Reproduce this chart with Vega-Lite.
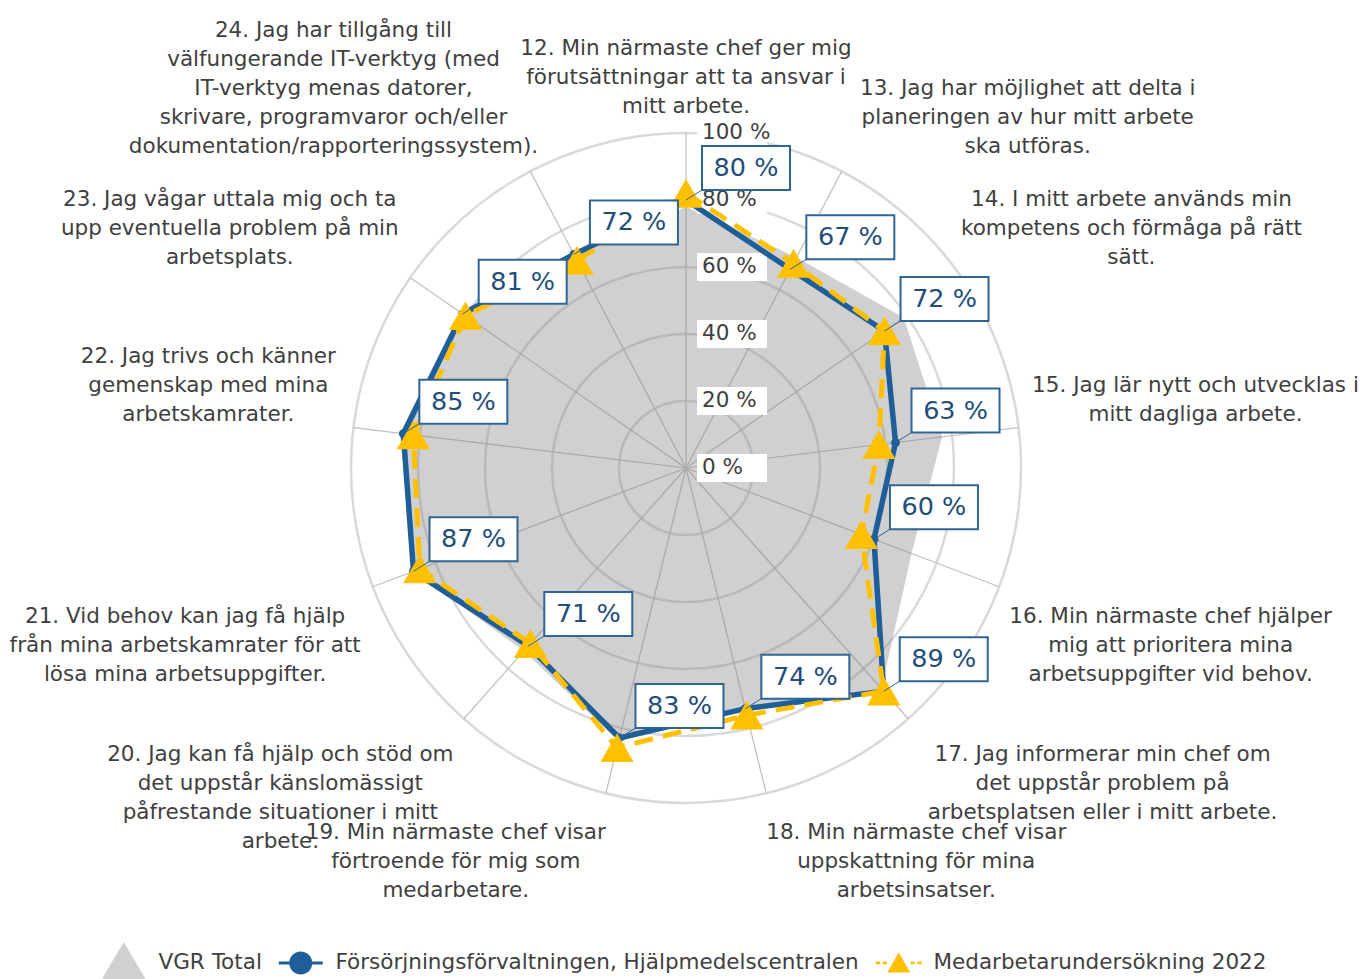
{
  "$schema": "https://vega.github.io/schema/vega-lite/v6.json",
  "width": 1367,
  "height": 979,
  "padding": 0,
  "autosize": {"type": "none"},
  "background": "white",
  "config": {"view": {"stroke": null}, "font": "DejaVu Sans"},
  "datasets": {
    "ticks": [{"r": 0}, {"r": 20}, {"r": 40}, {"r": 60}, {"r": 80}, {"r": 100}],
    "items": [
      {"item": 12, "label": ["12. Min närmaste chef ger mig", "förutsättningar att ta ansvar i", "mitt arbete."]},
      {"item": 13, "label": ["13. Jag har möjlighet att delta i", "planeringen av hur mitt arbete", "ska utföras."]},
      {"item": 14, "label": ["14. I mitt arbete används min", "kompetens och förmåga på rätt", "sätt."]},
      {"item": 15, "label": ["15. Jag lär nytt och utvecklas i", "mitt dagliga arbete."]},
      {"item": 16, "label": ["16. Min närmaste chef hjälper", "mig att prioritera mina", "arbetsuppgifter vid behov."]},
      {"item": 17, "label": ["17. Jag informerar min chef om", "det uppstår problem på", "arbetsplatsen eller i mitt arbete."]},
      {"item": 18, "label": ["18. Min närmaste chef visar", "uppskattning för mina", "arbetsinsatser."]},
      {"item": 19, "label": ["19. Min närmaste chef visar", "förtroende för mig som", "medarbetare."]},
      {"item": 20, "label": ["20. Jag kan få hjälp och stöd om", "det uppstår känslomässigt", "påfrestande situationer i mitt", "arbete."]},
      {"item": 21, "label": ["21. Vid behov kan jag få hjälp", "från mina arbetskamrater för att", "lösa mina arbetsuppgifter."]},
      {"item": 22, "label": ["22. Jag trivs och känner", "gemenskap med mina", "arbetskamrater."]},
      {"item": 23, "label": ["23. Jag vågar uttala mig och ta", "upp eventuella problem på min", "arbetsplats."]},
      {"item": 24, "label": ["24. Jag har tillgång till", "välfungerande IT-verktyg (med", "IT-verktyg menas datorer,", "skrivare, programvaror och/eller", "dokumentation/rapporteringssystem)."]}
    ],
    "values": [
      {"item": 12, "series": "VGR Total", "value": 78},
      {"item": 13, "series": "VGR Total", "value": 71},
      {"item": 14, "series": "VGR Total", "value": 79},
      {"item": 15, "series": "VGR Total", "value": 77},
      {"item": 16, "series": "VGR Total", "value": 72},
      {"item": 17, "series": "VGR Total", "value": 88},
      {"item": 18, "series": "VGR Total", "value": 74},
      {"item": 19, "series": "VGR Total", "value": 84},
      {"item": 20, "series": "VGR Total", "value": 73},
      {"item": 21, "series": "VGR Total", "value": 87},
      {"item": 22, "series": "VGR Total", "value": 86},
      {"item": 23, "series": "VGR Total", "value": 82},
      {"item": 24, "series": "VGR Total", "value": 72},
      {"item": 12, "series": "Försörjningsförvaltningen, Hjälpmedelscentralen", "value": 80},
      {"item": 13, "series": "Försörjningsförvaltningen, Hjälpmedelscentralen", "value": 67},
      {"item": 14, "series": "Försörjningsförvaltningen, Hjälpmedelscentralen", "value": 72},
      {"item": 15, "series": "Försörjningsförvaltningen, Hjälpmedelscentralen", "value": 63},
      {"item": 16, "series": "Försörjningsförvaltningen, Hjälpmedelscentralen", "value": 60},
      {"item": 17, "series": "Försörjningsförvaltningen, Hjälpmedelscentralen", "value": 89},
      {"item": 18, "series": "Försörjningsförvaltningen, Hjälpmedelscentralen", "value": 74},
      {"item": 19, "series": "Försörjningsförvaltningen, Hjälpmedelscentralen", "value": 83},
      {"item": 20, "series": "Försörjningsförvaltningen, Hjälpmedelscentralen", "value": 71},
      {"item": 21, "series": "Försörjningsförvaltningen, Hjälpmedelscentralen", "value": 87},
      {"item": 22, "series": "Försörjningsförvaltningen, Hjälpmedelscentralen", "value": 85},
      {"item": 23, "series": "Försörjningsförvaltningen, Hjälpmedelscentralen", "value": 81},
      {"item": 24, "series": "Försörjningsförvaltningen, Hjälpmedelscentralen", "value": 72},
      {"item": 12, "series": "Medarbetarundersökning 2022", "value": 82},
      {"item": 13, "series": "Medarbetarundersökning 2022", "value": 69},
      {"item": 14, "series": "Medarbetarundersökning 2022", "value": 72},
      {"item": 15, "series": "Medarbetarundersökning 2022", "value": 58},
      {"item": 16, "series": "Medarbetarundersökning 2022", "value": 56},
      {"item": 17, "series": "Medarbetarundersökning 2022", "value": 89},
      {"item": 18, "series": "Medarbetarundersökning 2022", "value": 76},
      {"item": 19, "series": "Medarbetarundersökning 2022", "value": 86},
      {"item": 20, "series": "Medarbetarundersökning 2022", "value": 70},
      {"item": 21, "series": "Medarbetarundersökning 2022", "value": 85},
      {"item": 22, "series": "Medarbetarundersökning 2022", "value": 82},
      {"item": 23, "series": "Medarbetarundersökning 2022", "value": 80},
      {"item": 24, "series": "Medarbetarundersökning 2022", "value": 70}
    ]
  },
  "layer": [
    {
      "data": {"name": "ticks"},
      "transform": [{"filter": "datum.r > 0"}, {"calculate": "0", "as": "o"}],
      "mark": {"type": "arc", "theta": 0, "theta2": 6.2832, "fillOpacity": 0, "stroke": "#d9d9d9", "strokeWidth": 2.5},
      "encoding": {
        "x": {"field": "o", "type": "quantitative", "scale": {"domain": [-204.78, 203.28], "nice": false, "zero": false}, "axis": null},
        "y": {"field": "o", "type": "quantitative", "scale": {"domain": [-152.54, 139.7], "nice": false, "zero": false}, "axis": null},
        "radius": {"field": "r", "type": "quantitative", "stack": null, "scale": {"type": "linear", "domain": [0, 100], "range": [0, 335], "zero": true}}
      }
    },
    {
      "data": {"name": "items"},
      "transform": [
        {"calculate": "(datum.item - 12) * 2 * PI / 13", "as": "a"},
        {"calculate": "0", "as": "o"},
        {"calculate": "100 * sin(datum.a)", "as": "sx"},
        {"calculate": "100 * cos(datum.a)", "as": "sy"}
      ],
      "mark": {"type": "rule", "stroke": "#bfbfbf", "strokeWidth": 1.2},
      "encoding": {
        "x": {"field": "o", "type": "quantitative", "scale": {"domain": [-204.78, 203.28], "nice": false, "zero": false}, "axis": null},
        "y": {"field": "o", "type": "quantitative", "scale": {"domain": [-152.54, 139.7], "nice": false, "zero": false}, "axis": null},
        "x2": {"field": "sx"},
        "y2": {"field": "sy"}
      }
    },
    {
      "data": {"name": "values"},
      "transform": [
        {"filter": "datum.series === 'VGR Total'"},
        {"calculate": "(datum.item - 12) * 2 * PI / 13", "as": "a"},
        {"calculate": "datum.value * sin(datum.a)", "as": "px"},
        {"calculate": "datum.value * cos(datum.a)", "as": "py"}
      ],
      "mark": {"type": "line", "interpolate": "linear-closed", "fill": "#808080", "fillOpacity": 0.37, "stroke": "transparent", "strokeWidth": 0},
      "encoding": {
        "x": {"field": "px", "type": "quantitative", "scale": {"domain": [-204.78, 203.28], "nice": false, "zero": false}, "axis": null},
        "y": {"field": "py", "type": "quantitative", "scale": {"domain": [-152.54, 139.7], "nice": false, "zero": false}, "axis": null},
        "order": {"field": "item", "type": "quantitative"}
      }
    },
    {
      "data": {"name": "ticks"},
      "transform": [{"calculate": "0", "as": "o"}],
      "mark": {"type": "point", "shape": "M1.1,-1.4H8.1V1.4H1.1Z", "size": 400, "filled": true, "fill": "white", "opacity": 1, "strokeWidth": 0},
      "encoding": {
        "x": {"field": "o", "type": "quantitative", "scale": {"domain": [-204.78, 203.28], "nice": false, "zero": false}, "axis": null},
        "y": {"field": "r", "type": "quantitative", "scale": {"domain": [-152.54, 139.7], "nice": false, "zero": false}, "axis": null}
      }
    },
    {
      "data": {"name": "ticks"},
      "transform": [{"calculate": "0", "as": "o"}, {"calculate": "datum.r + ' %'", "as": "tl"}],
      "mark": {"type": "text", "align": "left", "baseline": "middle", "dx": 16, "fontSize": 21.5, "font": "DejaVu Sans", "fill": "#404040"},
      "encoding": {
        "x": {"field": "o", "type": "quantitative", "scale": {"domain": [-204.78, 203.28], "nice": false, "zero": false}, "axis": null},
        "y": {"field": "r", "type": "quantitative", "scale": {"domain": [-152.54, 139.7], "nice": false, "zero": false}, "axis": null},
        "text": {"field": "tl", "type": "nominal"}
      }
    },
    {
      "data": {"name": "values"},
      "transform": [
        {"filter": "datum.series === 'Försörjningsförvaltningen, Hjälpmedelscentralen'"},
        {"calculate": "(datum.item - 12) * 2 * PI / 13", "as": "a"},
        {"calculate": "datum.value * sin(datum.a)", "as": "px"},
        {"calculate": "datum.value * cos(datum.a)", "as": "py"}
      ],
      "mark": {"type": "line", "interpolate": "linear-closed", "stroke": "#1f5f99", "strokeWidth": 5.5},
      "encoding": {
        "x": {"field": "px", "type": "quantitative", "scale": {"domain": [-204.78, 203.28], "nice": false, "zero": false}, "axis": null},
        "y": {"field": "py", "type": "quantitative", "scale": {"domain": [-152.54, 139.7], "nice": false, "zero": false}, "axis": null},
        "order": {"field": "item", "type": "quantitative"}
      }
    },
    {
      "data": {"name": "values"},
      "transform": [
        {"filter": "datum.series === 'Medarbetarundersökning 2022'"},
        {"calculate": "(datum.item - 12) * 2 * PI / 13", "as": "a"},
        {"calculate": "datum.value * sin(datum.a)", "as": "px"},
        {"calculate": "datum.value * cos(datum.a)", "as": "py"}
      ],
      "mark": {"type": "line", "interpolate": "linear-closed", "stroke": "#ffc000", "strokeWidth": 5, "strokeDash": [19, 10]},
      "encoding": {
        "x": {"field": "px", "type": "quantitative", "scale": {"domain": [-204.78, 203.28], "nice": false, "zero": false}, "axis": null},
        "y": {"field": "py", "type": "quantitative", "scale": {"domain": [-152.54, 139.7], "nice": false, "zero": false}, "axis": null},
        "order": {"field": "item", "type": "quantitative"}
      }
    },
    {
      "data": {"name": "values"},
      "transform": [
        {"filter": "datum.series === 'Försörjningsförvaltningen, Hjälpmedelscentralen'"},
        {"calculate": "(datum.item - 12) * 2 * PI / 13", "as": "a"},
        {"calculate": "datum.value * sin(datum.a)", "as": "px"},
        {"calculate": "datum.value * cos(datum.a)", "as": "py"}
      ],
      "mark": {"type": "point", "shape": "circle", "filled": true, "size": 80, "fill": "#1f5f99", "opacity": 1},
      "encoding": {
        "x": {"field": "px", "type": "quantitative", "scale": {"domain": [-204.78, 203.28], "nice": false, "zero": false}, "axis": null},
        "y": {"field": "py", "type": "quantitative", "scale": {"domain": [-152.54, 139.7], "nice": false, "zero": false}, "axis": null}
      }
    },
    {
      "data": {"name": "values"},
      "transform": [
        {"filter": "datum.series === 'Medarbetarundersökning 2022'"},
        {"calculate": "(datum.item - 12) * 2 * PI / 13", "as": "a"},
        {"calculate": "datum.value * sin(datum.a)", "as": "px"},
        {"calculate": "datum.value * cos(datum.a)", "as": "py"}
      ],
      "mark": {"type": "point", "shape": "triangle-up", "filled": true, "size": 1100, "fill": "#ffc000", "opacity": 1},
      "encoding": {
        "x": {"field": "px", "type": "quantitative", "scale": {"domain": [-204.78, 203.28], "nice": false, "zero": false}, "axis": null},
        "y": {"field": "py", "type": "quantitative", "scale": {"domain": [-152.54, 139.7], "nice": false, "zero": false}, "axis": null}
      }
    },
    {
      "data": {"name": "values"},
      "transform": [
        {"filter": "datum.series === 'Försörjningsförvaltningen, Hjälpmedelscentralen'"},
        {"calculate": "(datum.item - 12) * 2 * PI / 13", "as": "a"},
        {"calculate": "datum.value * sin(datum.a)", "as": "px"},
        {"calculate": "datum.value * cos(datum.a)", "as": "py"}
      ],
      "mark": {"type": "point", "shape": "M0,0L1.6,-1", "filled": false, "size": 400, "stroke": "#2e6596", "strokeWidth": 1, "opacity": 1},
      "encoding": {
        "x": {"field": "px", "type": "quantitative", "scale": {"domain": [-204.78, 203.28], "nice": false, "zero": false}, "axis": null},
        "y": {"field": "py", "type": "quantitative", "scale": {"domain": [-152.54, 139.7], "nice": false, "zero": false}, "axis": null}
      }
    },
    {
      "data": {"name": "values"},
      "transform": [
        {"filter": "datum.series === 'Försörjningsförvaltningen, Hjälpmedelscentralen'"},
        {"calculate": "(datum.item - 12) * 2 * PI / 13", "as": "a"},
        {"calculate": "datum.value * sin(datum.a)", "as": "px"},
        {"calculate": "datum.value * cos(datum.a)", "as": "py"}
      ],
      "mark": {"type": "point", "shape": "M1.6,-5.4H10.4V-1H1.6Z", "filled": true, "size": 400, "fill": "white", "stroke": "#2e6596", "strokeWidth": 2, "opacity": 1},
      "encoding": {
        "x": {"field": "px", "type": "quantitative", "scale": {"domain": [-204.78, 203.28], "nice": false, "zero": false}, "axis": null},
        "y": {"field": "py", "type": "quantitative", "scale": {"domain": [-152.54, 139.7], "nice": false, "zero": false}, "axis": null}
      }
    },
    {
      "data": {"name": "values"},
      "transform": [
        {"filter": "datum.series === 'Försörjningsförvaltningen, Hjälpmedelscentralen'"},
        {"calculate": "(datum.item - 12) * 2 * PI / 13", "as": "a"},
        {"calculate": "datum.value * sin(datum.a)", "as": "px"},
        {"calculate": "datum.value * cos(datum.a)", "as": "py"},
        {"calculate": "datum.value + ' %'", "as": "dl"}
      ],
      "mark": {"type": "text", "align": "center", "baseline": "middle", "dx": 60, "dy": -32, "fontSize": 25.5, "font": "DejaVu Sans", "fill": "#1f4e79"},
      "encoding": {
        "x": {"field": "px", "type": "quantitative", "scale": {"domain": [-204.78, 203.28], "nice": false, "zero": false}, "axis": null},
        "y": {"field": "py", "type": "quantitative", "scale": {"domain": [-152.54, 139.7], "nice": false, "zero": false}, "axis": null},
        "text": {"field": "dl", "type": "nominal"}
      }
    },
    {
      "data": {"name": "items"},
      "transform": [
        {"calculate": "(datum.item - 12) * 2 * PI / 13", "as": "a"},
        {"calculate": "104.5 * sin(datum.a)", "as": "ax"},
        {"calculate": "104.5 * cos(datum.a)", "as": "ay"},
        {"calculate": "max(length(datum.label[0]), length(datum.label[1] || ''), length(datum.label[2] || ''), length(datum.label[3] || ''), length(datum.label[4] || ''))", "as": "maxlen"},
        {"calculate": "datum.ax + (datum.ax > 1 ? 1 : (datum.ax < -1 ? -1 : 0)) * datum.maxlen * 1.619", "as": "lx0"},
        {"calculate": "max(-204.78 + datum.maxlen * 1.6, min(203.28 - datum.maxlen * 1.6, datum.lx0))", "as": "lx"},
        {"calculate": "datum.ay + (length(datum.label) - 1) * 29 / 3.35", "as": "ly"},
        {"filter": "datum.ay >= 0"}
      ],
      "mark": {"type": "text", "align": "center", "baseline": "bottom", "fontSize": 21.5, "lineHeight": 29, "font": "DejaVu Sans", "fill": "#404040"},
      "encoding": {
        "x": {"field": "lx", "type": "quantitative", "scale": {"domain": [-204.78, 203.28], "nice": false, "zero": false}, "axis": null},
        "y": {"field": "ly", "type": "quantitative", "scale": {"domain": [-152.54, 139.7], "nice": false, "zero": false}, "axis": null},
        "text": {"field": "label", "type": "nominal"}
      }
    },
    {
      "data": {"name": "items"},
      "transform": [
        {"calculate": "(datum.item - 12) * 2 * PI / 13", "as": "a"},
        {"calculate": "104.5 * sin(datum.a)", "as": "ax"},
        {"calculate": "104.5 * cos(datum.a)", "as": "ay"},
        {"calculate": "max(length(datum.label[0]), length(datum.label[1] || ''), length(datum.label[2] || ''), length(datum.label[3] || ''), length(datum.label[4] || ''))", "as": "maxlen"},
        {"calculate": "datum.ax + (datum.ax > 1 ? 1 : (datum.ax < -1 ? -1 : 0)) * datum.maxlen * 1.619", "as": "lx0"},
        {"calculate": "max(-204.78 + datum.maxlen * 1.6, min(203.28 - datum.maxlen * 1.6, datum.lx0))", "as": "lx"},
        {"filter": "datum.ay < 0"}
      ],
      "mark": {"type": "text", "align": "center", "baseline": "top", "dy": 14, "fontSize": 21.5, "lineHeight": 29, "font": "DejaVu Sans", "fill": "#404040"},
      "encoding": {
        "x": {"field": "lx", "type": "quantitative", "scale": {"domain": [-204.78, 203.28], "nice": false, "zero": false}, "axis": null},
        "y": {"field": "ay", "type": "quantitative", "scale": {"domain": [-152.54, 139.7], "nice": false, "zero": false}, "axis": null},
        "text": {"field": "label", "type": "nominal"}
      }
    },
    {
      "data": {"name": "values"},
      "transform": [
        {"filter": "false"},
        {"calculate": "0", "as": "o"}
      ],
      "mark": {"type": "point", "filled": true, "opacity": 1},
      "encoding": {
        "x": {"field": "o", "type": "quantitative", "scale": {"domain": [-204.78, 203.28], "nice": false, "zero": false}, "axis": null},
        "y": {"field": "o", "type": "quantitative", "scale": {"domain": [-152.54, 139.7], "nice": false, "zero": false}, "axis": null},
        "color": {
          "field": "series", "type": "nominal",
          "scale": {"domain": ["VGR Total", "Försörjningsförvaltningen, Hjälpmedelscentralen", "Medarbetarundersökning 2022"], "range": ["#d0d0d0", "#1f5f99", "#ffc000"]},
          "legend": {
            "orient": "none", "legendX": 113, "legendY": 952, "direction": "horizontal", "title": null,
            "symbolSize": 400, "symbolStrokeWidth": 0, "symbolOpacity": 1,
            "labelFont": "DejaVu Sans", "labelFontSize": 21.5, "labelColor": "#404040", "labelOffset": 24, "labelLimit": 1000,
            "columnPadding": 16, "padding": 0
          }
        },
        "shape": {
          "field": "series", "type": "nominal",
          "scale": {"domain": ["VGR Total", "Försörjningsförvaltningen, Hjälpmedelscentralen", "Medarbetarundersökning 2022"],
                    "range": ["M0,-2.1L2.35,1.9L-2.35,1.9Z", "M0,-2.1L0,-2.1M0,1.9L0,1.9M-2.2,-0.15H-1.0V0.15H-2.2ZM1.0,-0.15H2.2V0.15H1.0ZM-1.15,0A1.15,1.15,0,0,1,1.15,0A1.15,1.15,0,0,1,-1.15,0Z", "M0,-2.1L0,-2.1M0,1.9L0,1.9M-2.3,-0.13H-1.85V0.13H-2.3ZM-1.6,-0.13H-1.2V0.13H-1.6ZM1.2,-0.13H1.6V0.13H1.2ZM1.85,-0.13H2.3V0.13H1.85ZM0,-1.05L1.15,0.95L-1.15,0.95Z"]}
        }
      }
    }
  ]
}
